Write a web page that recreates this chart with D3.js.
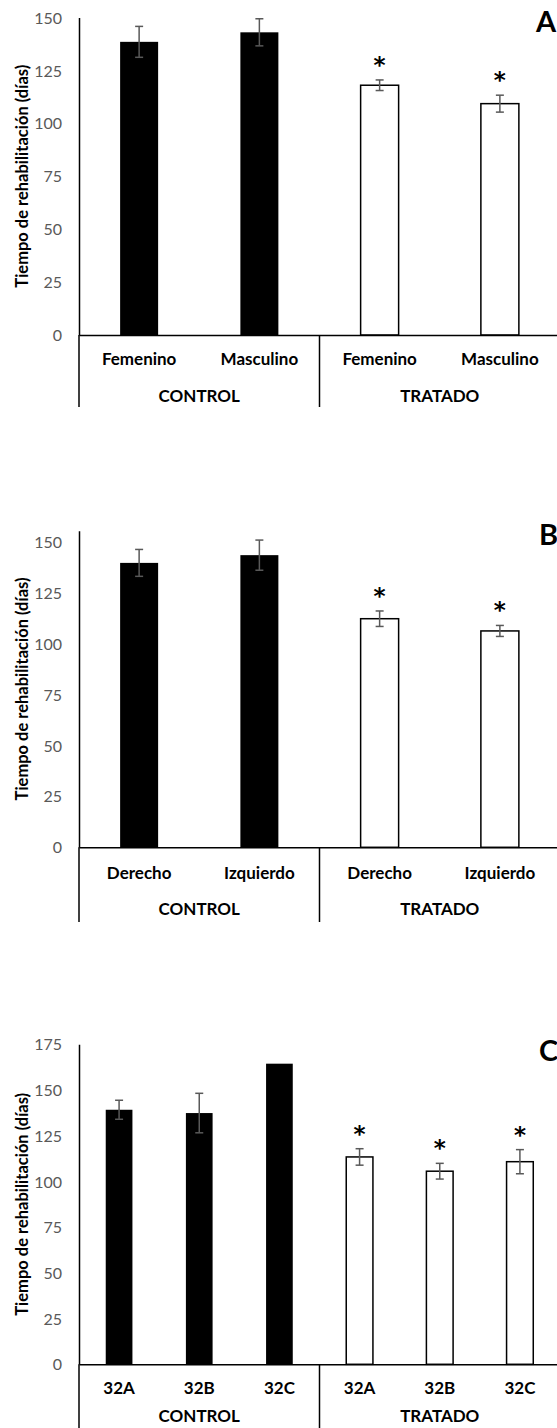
<!DOCTYPE html>
<html>
<head>
<meta charset="utf-8">
<script src="https://cdn.jsdelivr.net/npm/d3@7"></script>
<style>
  html, body { margin: 0; padding: 0; background: #fff; }
  svg { display: block; }
</style>
</head>
<body>
<svg id="chart" width="557" height="1428"></svg>
<script>
// ---- data ----
const groups = ["CONTROL", "TRATADO"];
const yTitle = "Tiempo de rehabilitación (días)";

// Panel A: sexo
const catsA = ["Femenino", "Masculino"];
const controlA = [138.5, 143.0];
const controlErrA = [7.3, 6.4];
const treatedA = [118.0, 109.3];
const treatedErrA = [2.5, 4.0];
const ticksA = [0, 25, 50, 75, 100, 125, 150];

// Panel B: lado
const catsB = ["Derecho", "Izquierdo"];
const controlB = [139.6, 143.4];
const controlErrB = [6.6, 7.4];
const treatedB = [112.2, 106.2];
const treatedErrB = [3.8, 2.7];
const ticksB = [0, 25, 50, 75, 100, 125, 150];

// Panel C: grupo
const catsC = ["32A", "32B", "32C"];
const controlC = [139.2, 137.4, 164.4];
const controlErrC = [5.2, 10.8, 0];
const treatedC = [113.4, 105.6, 110.8];
const treatedErrC = [4.5, 4.3, 6.6];
const ticksC = [0, 25, 50, 75, 100, 125, 150, 175];

// ---- drawing ----
const svg = d3.select("#chart");
const FONT = "Lato, 'Open Sans', sans-serif";
const errColor = "#595959";

function drawPanel(opt) {
  const g = svg.append("g");
  const rows = [];
  groups.forEach((grp, gi) => {
    const vals = gi === 0 ? opt.control : opt.treated;
    const errs = gi === 0 ? opt.controlErr : opt.treatedErr;
    opt.cats.forEach((c, i) => rows.push({ key: grp + "|" + c, group: grp, cat: c, v: vals[i], e: errs[i], treated: gi === 1 }));
  });

  const x = d3.scaleBand()
    .domain(rows.map(d => d.key))
    .range([opt.left, opt.right])
    .paddingInner(opt.pad).paddingOuter(opt.pad / 2);
  const y = d3.scaleLinear().domain([0, opt.max]).range([opt.base, opt.top]);

  // y axis
  const ya = g.append("g")
    .attr("transform", `translate(${opt.left},0)`)
    .call(d3.axisLeft(y).tickValues(opt.ticks).tickSize(0).tickPadding(17).tickSizeOuter(0));
  ya.select(".domain").attr("stroke", "#000").attr("stroke-width", 1.5);
  ya.selectAll("text").attr("fill", "#595959").attr("font-family", FONT)
    .attr("font-size", 16).attr("dy", "0.35em");

  // axis title
  g.append("text")
    .attr("transform", `translate(28,${(opt.top + opt.base) / 2}) rotate(-90)`)
    .attr("text-anchor", "middle")
    .attr("font-family", FONT).attr("font-weight", "bold").attr("font-size", 16.5)
    .attr("fill", "#000")
    .text(yTitle);

  // bars
  g.selectAll("rect.bar").data(rows).join("rect")
    .attr("class", "bar")
    .attr("x", d => x(d.key))
    .attr("width", x.bandwidth())
    .attr("y", d => y(d.v))
    .attr("height", d => y(0) - y(d.v))
    .attr("fill", d => d.treated ? "#fff" : "#000")
    .attr("stroke", "#000")
    .attr("stroke-width", d => d.treated ? 1.5 : 0);

  // error bars
  const eb = g.selectAll("g.err").data(rows.filter(d => d.e > 0)).join("g").attr("class", "err")
    .attr("stroke", errColor).attr("stroke-width", 1.5);
  const cx = d => x(d.key) + x.bandwidth() / 2;
  eb.append("line").attr("x1", cx).attr("x2", cx).attr("y1", d => y(d.v + d.e)).attr("y2", d => y(d.v - d.e));
  eb.append("line").attr("x1", d => cx(d) - 4).attr("x2", d => cx(d) + 4).attr("y1", d => y(d.v + d.e)).attr("y2", d => y(d.v + d.e));
  eb.append("line").attr("x1", d => cx(d) - 4).attr("x2", d => cx(d) + 4).attr("y1", d => y(d.v - d.e)).attr("y2", d => y(d.v - d.e));

  // significance marks on treated bars
  g.selectAll("text.star").data(rows.filter(d => d.treated)).join("text")
    .attr("class", "star")
    .attr("x", cx)
    .attr("y", d => y(d.v + d.e) - 20 + 13)
    .attr("text-anchor", "middle")
    .attr("font-family", "'DejaVu Sans', sans-serif").attr("font-weight", "bold").attr("font-size", 23)
    .attr("fill", "#000")
    .text("*");

  // category axis
  const xa = g.append("g")
    .attr("transform", `translate(0,${opt.base})`)
    .call(d3.axisBottom(x).tickSize(0).tickPadding(0).tickFormat(k => k.split("|")[1]).tickSizeOuter(0));
  xa.select(".domain").attr("stroke", "#000").attr("stroke-width", 1.5);
  xa.selectAll("text").attr("fill", "#000").attr("font-family", FONT)
    .attr("font-weight", "bold").attr("font-size", 17)
    .attr("y", opt.catOffset).attr("dy", "0.35em");

  // group dividers and labels
  const nc = opt.cats.length;
  const edges = [0, nc, 2 * nc].map(i => i === 2 * nc ? opt.right : x(rows[i].key) - x.step() * x.paddingInner() / 2);
  edges[0] = opt.left;
  g.selectAll("line.div").data(edges).join("line")
    .attr("class", "div")
    .attr("x1", d => d).attr("x2", d => d)
    .attr("y1", opt.base).attr("y2", opt.bottom)
    .attr("stroke", "#000").attr("stroke-width", 1.5);
  g.selectAll("text.grp").data(groups).join("text")
    .attr("class", "grp")
    .attr("x", (d, i) => (edges[i] + edges[i + 1]) / 2)
    .attr("y", opt.base + opt.grpOffset)
    .attr("dy", "0.35em")
    .attr("text-anchor", "middle")
    .attr("font-family", FONT).attr("font-weight", "bold").attr("font-size", 17)
    .attr("fill", "#000")
    .text(d => d);

  // panel letter
  g.append("text")
    .attr("x", opt.letterX).attr("y", opt.letterY)
    .attr("font-family", FONT).attr("font-weight", "bold").attr("font-size", 29)
    .attr("fill", "#000")
    .text(opt.letter);
}

drawPanel({
  cats: catsA, control: controlA, controlErr: controlErrA, treated: treatedA, treatedErr: treatedErrA,
  ticks: ticksA, max: 150, top: 17.5, base: 335, bottom: 407, left: 79, right: 560, pad: 0.684,
  catOffset: 24, grpOffset: 61, letter: "A", letterX: 536, letterY: 32
});
drawPanel({
  cats: catsB, control: controlB, controlErr: controlErrB, treated: treatedB, treatedErr: treatedErrB,
  ticks: ticksB, max: 155.4, top: 530.7, base: 847.3, bottom: 922, left: 79, right: 560, pad: 0.684,
  catOffset: 25.5, grpOffset: 62, letter: "B", letterX: 539, letterY: 545
});
drawPanel({
  cats: catsC, control: controlC, controlErr: controlErrC, treated: treatedC, treatedErr: treatedErrC,
  ticks: ticksC, max: 175, top: 1044.3, base: 1364.3, bottom: 1428, left: 79, right: 560, pad: 0.667,
  catOffset: 24, grpOffset: 52, letter: "C", letterX: 539, letterY: 1060.5
});
</script>
</body>
</html>
